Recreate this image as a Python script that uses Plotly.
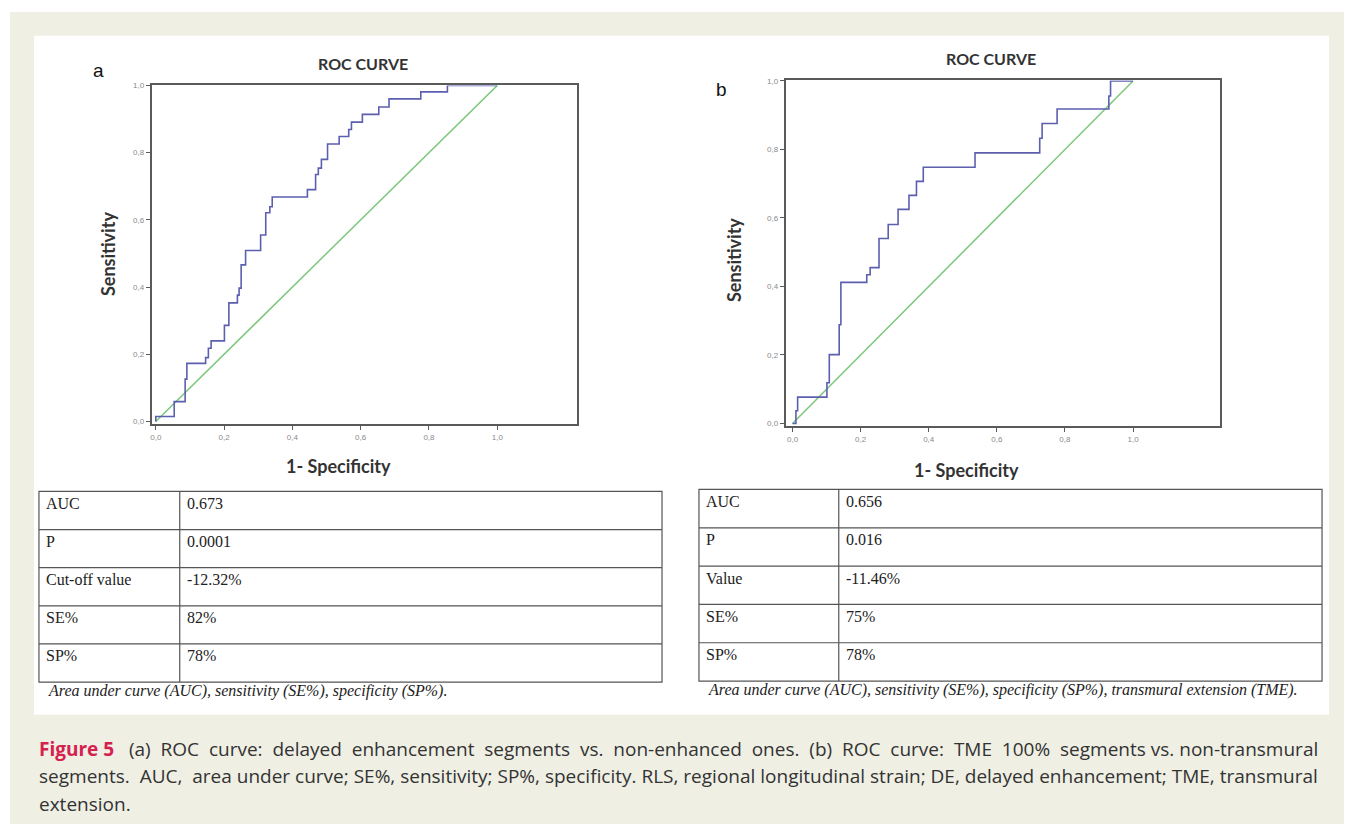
import plotly.graph_objects as go

# The page body adds an 8px margin, so the figure occupies page pixels 8..1344 x 8..826
OFF = 8
W, H = 1352 - 2 * OFF, 834 - 2 * OFF

# ---------------- data ----------------
# ROC curve (a): step vertices (1-specificity, sensitivity)
roc_a_fpr = [0.0, 0.054, 0.086, 0.091, 0.146, 0.154, 0.162, 0.201, 0.214, 0.239, 0.244,
             0.250, 0.263, 0.307, 0.322, 0.334, 0.341, 0.444, 0.468, 0.476, 0.485,
             0.503, 0.537, 0.565, 0.573, 0.605, 0.653, 0.683, 0.776, 0.854, 1.0]
roc_a_tpr = [0.0, 0.015, 0.059, 0.126, 0.173, 0.190, 0.218, 0.240, 0.286, 0.353, 0.376,
             0.397, 0.466, 0.509, 0.555, 0.621, 0.639, 0.668, 0.690, 0.735, 0.754,
             0.780, 0.826, 0.848, 0.869, 0.891, 0.914, 0.936, 0.960, 0.981, 1.0]

# ROC curve (b)
roc_b_fpr = [0.0, 0.010, 0.015, 0.101, 0.108, 0.137, 0.142, 0.218, 0.228, 0.254, 0.281,
             0.310, 0.342, 0.364, 0.384, 0.536, 0.726, 0.733, 0.777, 0.929, 0.934, 1.0]
roc_b_tpr = [0.0, 0.0, 0.037, 0.077, 0.119, 0.201, 0.288, 0.412, 0.434, 0.455, 0.540,
             0.581, 0.625, 0.666, 0.707, 0.748, 0.790, 0.833, 0.876, 0.918, 0.956, 1.0]

ref_line = [0.0, 1.0]
tick_vals = [0.0, 0.2, 0.4, 0.6, 0.8, 1.0]

table_a_labels = ["AUC", "P", "Cut-off value", "SE%", "SP%"]
table_a_values = ["0.673", "0.0001", "-12.32%", "82%", "78%"]
table_b_labels = ["AUC", "P", "Value", "SE%", "SP%"]
table_b_values = ["0.656", "0.016", "-11.46%", "75%", "78%"]

note_a = "Area under curve (AUC), sensitivity (SE%), specificity (SP%)."
note_b = "Area under curve (AUC), sensitivity (SE%), specificity (SP%), transmural extension (TME)."

caption_label = "Figure 5"
caption_lines = [
    "(a) ROC curve: delayed enhancement segments vs. non-enhanced ones. (b) ROC curve: TME 100% segments vs. non-transmural",
    "segments. AUC, area under curve; SE%, sensitivity; SP%, specificity. RLS, regional longitudinal strain; DE, delayed enhancement; TME, transmural",
    "extension.",
]

# ---------------- helpers (page pixel -> paper) ----------------
def px(x):
    return (x - OFF) / W

def py(y):
    return 1 - (y - OFF) / H

CURVE = "#5b5fae"
DIAG = "#7cc77c"
FRAME = "#5a5a5a"

fig = go.Figure()

fig.add_trace(go.Scatter(x=ref_line, y=ref_line, mode="lines", line=dict(color=DIAG, width=1.5),
                         xaxis="x", yaxis="y", hoverinfo="skip"))
fig.add_trace(go.Scatter(x=roc_a_fpr, y=roc_a_tpr, mode="lines", line=dict(color=CURVE, width=1.6, shape="vh"),
                         xaxis="x", yaxis="y"))
fig.add_trace(go.Scatter(x=ref_line, y=ref_line, mode="lines", line=dict(color=DIAG, width=1.5),
                         xaxis="x2", yaxis="y2", hoverinfo="skip"))
fig.add_trace(go.Scatter(x=roc_b_fpr, y=roc_b_tpr, mode="lines", line=dict(color=CURVE, width=1.6, shape="vh"),
                         xaxis="x2", yaxis="y2"))

axis_common = dict(showgrid=False, zeroline=False, showline=True, linecolor=FRAME, linewidth=2,
                   mirror=True, ticks="outside", ticklen=4, tickcolor=FRAME, tickwidth=1,
                   tickvals=tick_vals, tickformat=".1f",
                   tickfont=dict(family="Arial", size=8, color="#8a8a8a"), fixedrange=True)

# plot boxes in page pixels
A = dict(l=150, r=576, t=82, b=423, x0=154, xs=342, y0=420.5, ys=338.5)
B = dict(l=785, r=1220, t=77, b=425, x0=791.7, xs=341, y0=422.5, ys=345)

def rng_x(P):
    return [(P["l"] - P["x0"]) / P["xs"], (P["r"] - P["x0"]) / P["xs"]]

def rng_y(P):
    return [(P["y0"] - P["b"]) / P["ys"], (P["y0"] - P["t"]) / P["ys"]]

fig.update_layout(
    xaxis=dict(domain=[px(A["l"]), px(A["r"])], range=rng_x(A), anchor="y", **axis_common),
    yaxis=dict(domain=[py(A["b"]), py(A["t"])], range=rng_y(A), anchor="x", **axis_common),
    xaxis2=dict(domain=[px(B["l"]), px(B["r"])], range=rng_x(B), anchor="y2", **axis_common),
    yaxis2=dict(domain=[py(B["b"]), py(B["t"])], range=rng_y(B), anchor="x2", **axis_common),
)

shapes = []
annotations = []

# backgrounds
shapes.append(dict(type="rect", xref="paper", yref="paper", x0=px(8), x1=px(1344), y0=py(826), y1=py(8),
                   fillcolor="#efefe4", line=dict(width=0), layer="below"))
shapes.append(dict(type="rect", xref="paper", yref="paper", x0=px(32), x1=px(1329), y0=py(716), y1=py(32),
                   fillcolor="#ffffff", line=dict(width=0), layer="below"))

def text(x, y, s, size, family, color="#222", xanchor="center", yanchor="middle", textangle=0):
    if xanchor == "left":
        x -= 3  # compensate annotation padding
    annotations.append(dict(x=px(x), y=py(y), xref="paper", yref="paper", text=s, showarrow=False,
                            xanchor=xanchor, yanchor=yanchor, textangle=textangle,
                            font=dict(size=size, family=family, color=color)))

TITLE_FONT = "Lato, Open Sans, sans-serif"
SERIF = "Liberation Serif, Times New Roman, serif"

# chart titles and axis titles
text(362, 60, "<b>ROC CURVE</b>", 16, TITLE_FONT, "#333")
text(990, 55, "<b>ROC CURVE</b>", 16, TITLE_FONT, "#333")
text(97, 67, "a", 19, "Liberation Sans, Arial", "#111")
text(721, 86, "b", 19, "Liberation Sans, Arial", "#111")
text(106, 252, "<b>Sensitivity</b>", 18, TITLE_FONT, "#333", textangle=-90)
text(733, 258, "<b>Sensitivity</b>", 18, TITLE_FONT, "#333", textangle=-90)
text(337, 465, "<b>1- Specificity</b>", 18, TITLE_FONT, "#333")
text(966, 469, "<b>1- Specificity</b>", 18, TITLE_FONT, "#333")

# tables
def table(left, right, top, bottom, divider, labels, values):
    n = len(labels)
    rh = (bottom - top) / n
    LC = "#555555"
    shapes.append(dict(type="rect", xref="paper", yref="paper", x0=px(left), x1=px(right),
                       y0=py(bottom), y1=py(top), line=dict(color=LC, width=1.2)))
    shapes.append(dict(type="line", xref="paper", yref="paper", x0=px(divider), x1=px(divider),
                       y0=py(bottom), y1=py(top), line=dict(color=LC, width=1.2)))
    for i in range(1, n):
        yy = top + i * rh
        shapes.append(dict(type="line", xref="paper", yref="paper", x0=px(left), x1=px(right),
                           y0=py(yy), y1=py(yy), line=dict(color=LC, width=1.2)))
    for i, (lab, val) in enumerate(zip(labels, values)):
        yy = top + i * rh + 12
        text(left + 8, yy, lab, 16, SERIF, "#222", xanchor="left")
        text(divider + 8, yy, val, 16, SERIF, "#222", xanchor="left")

table(37, 661, 491, 683, 178, table_a_labels, table_a_values)
table(698, 1322, 489, 682, 838, table_b_labels, table_b_values)

text(47, 692, "<i>" + note_a + "</i>", 16, SERIF, "#222", xanchor="left")
text(708, 691, "<i>" + note_b + "</i>", 16, SERIF, "#222", xanchor="left")

# caption (justified look: widen some word gaps)
def widen(line, n_extra):
    words = line.split(" ")
    out = words[0]
    for i, w in enumerate(words[1:]):
        out += (" &nbsp;" if i < n_extra else " ") + w
    return out

CAP_FONT = "Open Sans, Lato, sans-serif"
CAP_SIZE = 19
text(38, 750, "<b><span style='color:#d5214f'>" + caption_label + "</span></b>&nbsp;&nbsp;&nbsp;"
     + widen(caption_lines[0], 14), CAP_SIZE, CAP_FONT, "#333", xanchor="left")
text(38, 778, widen(caption_lines[1], 2), CAP_SIZE, CAP_FONT, "#333", xanchor="left")
text(38, 806, caption_lines[2], CAP_SIZE, CAP_FONT, "#333", xanchor="left")

fig.update_layout(
    width=W, height=H, margin=dict(l=0, r=0, t=0, b=0),
    paper_bgcolor="#ffffff", plot_bgcolor="#eef2f3",
    showlegend=False, separators=",.",
    shapes=shapes, annotations=annotations,
)

fig.write_html("out.html")
